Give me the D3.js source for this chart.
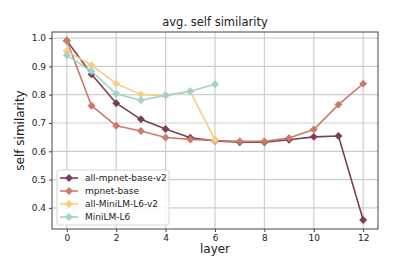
<!DOCTYPE html>
<html>
<head>
<meta charset="utf-8">
<script src="https://cdn.jsdelivr.net/npm/d3@7"></script>
<style>
  body { margin: 0; background: #fff; }
  text { font-family: "DejaVu Sans", sans-serif; fill: #222; }
</style>
</head>
<body>
<div id="graph"></div>
<script>
var seriesNames = ['all-mpnet-base-v2', 'mpnet-base', 'all-MiniLM-L6-v2', 'MiniLM-L6']
var seriesColors = ['#7b3f55', '#cc7b68', '#f4cf82', '#9fd4c8']

var allMpnetV2 = [0.991, 0.872, 0.770, 0.713, 0.679, 0.648, 0.637, 0.632, 0.632, 0.641, 0.651, 0.654, 0.357]
var mpnetBase = [0.991, 0.761, 0.690, 0.672, 0.649, 0.642, 0.638, 0.635, 0.635, 0.647, 0.677, 0.765, 0.839]
var allMiniV2 = [0.954, 0.904, 0.839, 0.801, 0.796, 0.811, 0.640]
var miniL6 = [0.939, 0.883, 0.803, 0.780, 0.798, 0.812, 0.837]

var xTicks = [0, 2, 4, 6, 8, 10, 12]
var yTicks = [0.4, 0.5, 0.6, 0.7, 0.8, 0.9, 1.0]

var series = [allMpnetV2, mpnetBase, allMiniV2, miniL6].map(function(vals, i){
  return {name: seriesNames[i], color: seriesColors[i], values: vals}
})

var W = 420, H = 262
var m = {left: 52, right: 42, top: 32, bottom: 33}

var svg = d3.select('#graph').append('svg')
    .attr('width', W).attr('height', H)

var x = d3.scaleLinear().domain([-0.6, 12.6]).range([m.left, W - m.right])
var y = d3.scaleLinear().domain([0.3255, 1.0215]).range([H - m.bottom, m.top])

// grid
svg.append('g').selectAll('line').data(xTicks).join('line')
    .attr('x1', d => x(d)).attr('x2', d => x(d))
    .attr('y1', m.top).attr('y2', H - m.bottom)
    .attr('stroke', '#cfcfcf').attr('stroke-width', 1.2)
svg.append('g').selectAll('line').data(yTicks).join('line')
    .attr('y1', d => y(d)).attr('y2', d => y(d))
    .attr('x1', m.left).attr('x2', W - m.right)
    .attr('stroke', '#cfcfcf').attr('stroke-width', 1.2)

// axes
var xAxis = svg.append('g')
    .attr('transform', 'translate(0,' + (H - m.bottom) + ')')
    .call(d3.axisBottom(x).tickValues(xTicks).tickSize(3).tickPadding(3))
var yAxis = svg.append('g')
    .attr('transform', 'translate(' + m.left + ',0)')
    .call(d3.axisLeft(y).tickValues(yTicks).tickSize(3).tickPadding(3).tickFormat(d3.format('.1f')))
;[xAxis, yAxis].forEach(function(a){
  a.select('.domain').remove()
  a.selectAll('.tick line').attr('stroke', '#444')
  a.selectAll('.tick text').style('font-size', '9px').style('font-family', 'DejaVu Sans').attr('fill', '#222')
})

svg.append('rect')
    .attr('x', m.left).attr('y', m.top)
    .attr('width', W - m.left - m.right).attr('height', H - m.top - m.bottom)
    .attr('fill', 'none').attr('stroke', '#444').attr('stroke-width', 1)

// lines
var line = d3.line().x((d, i) => x(i)).y(d => y(d))
var diamond = d3.symbol().type(d3.symbolDiamond2).size(40)

series.forEach(function(s){
  var g = svg.append('g')
  g.append('path').datum(s.values)
      .attr('d', line)
      .attr('fill', 'none').attr('stroke', s.color).attr('stroke-width', 1.6)
  g.selectAll('path.pt').data(s.values).join('path')
      .attr('class', 'pt')
      .attr('d', diamond)
      .attr('transform', (d, i) => 'translate(' + x(i) + ',' + y(d) + ')')
      .attr('fill', s.color)
})

// legend
var lg = svg.append('g').attr('transform', 'translate(57,170)')
lg.append('rect')
    .attr('width', 112).attr('height', 55).attr('rx', 2)
    .attr('fill', 'rgba(255,255,255,0.8)').attr('stroke', '#d6d6d6')
var item = lg.selectAll('g.item').data(series).join('g')
    .attr('class', 'item')
    .attr('transform', (d, i) => 'translate(0,' + (8 + i * 13) + ')')
item.append('line')
    .attr('x1', 3).attr('x2', 21)
    .attr('stroke', d => d.color).attr('stroke-width', 1.6)
item.append('path')
    .attr('d', diamond)
    .attr('transform', 'translate(12,0)')
    .attr('fill', d => d.color)
item.append('text')
    .attr('x', 28).attr('dy', '0.35em')
    .style('font-size', '9px')
    .text(d => d.name)

// titles
svg.append('text')
    .attr('x', (m.left + W - m.right) / 2).attr('y', 26)
    .attr('text-anchor', 'middle')
    .style('font-size', '11.5px')
    .text('avg. self similarity')
svg.append('text')
    .attr('x', (m.left + W - m.right) / 2).attr('y', 253)
    .attr('text-anchor', 'middle')
    .style('font-size', '12px')
    .text('layer')
svg.append('text')
    .attr('transform', 'translate(24,' + ((m.top + H - m.bottom) / 2) + ') rotate(-90)')
    .attr('text-anchor', 'middle')
    .style('font-size', '12px')
    .text('self similarity')
</script>
</body>
</html>
